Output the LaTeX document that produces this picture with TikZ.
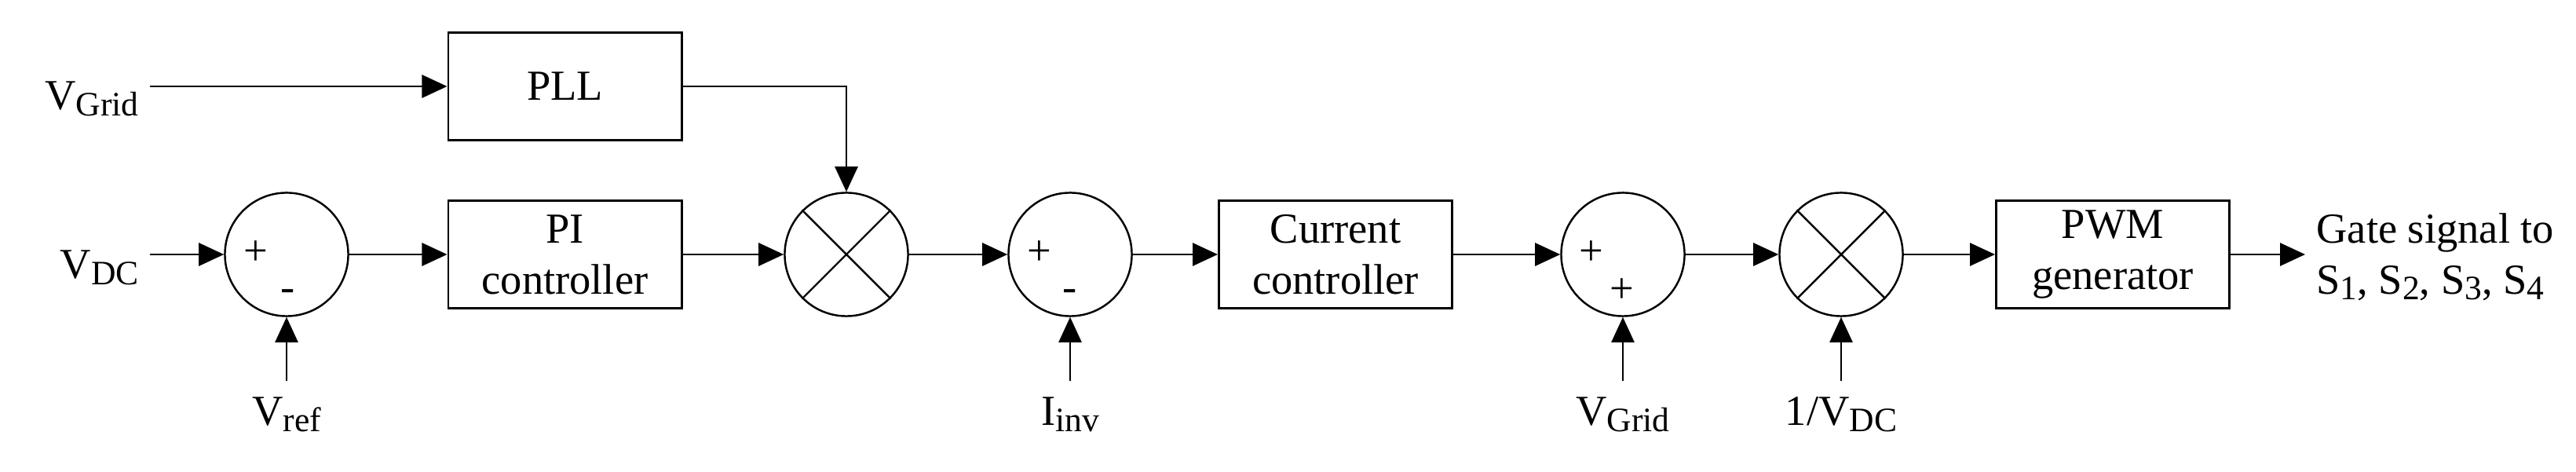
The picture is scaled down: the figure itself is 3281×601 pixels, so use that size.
\documentclass[tikz,border=0pt]{standalone}
\usepackage{fontspec}
\setmainfont{Liberation Serif}
\usetikzlibrary{arrows.meta,calc}
\newcommand{\lowsub}[1]{\raisebox{-2.2pt}{\fontsize{12.4}{12.4}\selectfont #1}}
\begin{document}
\begin{tikzpicture}[x=0.01cm,y=-0.01cm,
  font=\fontsize{15.5}{18.5}\selectfont,
  line width=0.8pt,
  arr/.style={-{Triangle[length=0.32cm,width=0.29cm]}},
  thin arr/.style={arr,line width=0.6pt},
  blk/.style={draw,rectangle,minimum width=2.97cm,minimum height=1.37cm,align=center,inner sep=0pt},
  junc/.style={draw,circle,minimum size=1.57cm,inner sep=0pt,line width=0.7pt},
  sgn/.style={inner sep=0pt},
  lab/.style={inner sep=0.18cm,text height=0.37cm,text depth=0.12cm,anchor=north},
  inlab/.style={anchor=base east,inner sep=0.13cm},
]
\path[use as bounding box] (0,0) rectangle (3281,601);

% blocks
\node[blk] (pll) at (719.5,110) {PLL};
\node[blk] (pi)  at (719.5,324) {PI\\controller};
\node[blk] (cc)  at (1701,324) {Current\\controller};
\node[blk] (pwm) at (2691,324) {PWM\\generator};

% junctions
\node[junc] (s1) at (365,324) {};
\node[junc] (m1) at (1078,324) {};
\node[junc] (s2) at (1363,324) {};
\node[junc] (s3) at (2067,324) {};
\node[junc] (m2) at (2345,324) {};

% multiplier crosses
\draw[line width=0.7pt] (m1.45) -- (m1.225) (m1.135) -- (m1.315);
\draw[line width=0.7pt] (m2.45) -- (m2.225) (m2.135) -- (m2.315);

% signs
\node[sgn] (s1p) at ([shift={(-39,-2)}]s1.center) {+};
\node[sgn] (s1m) at ([shift={(2,52)}]s1.center) {-};
\node[sgn] (s2p) at ([shift={(-39,-2)}]s2.center) {+};
\node[sgn] (s2m) at ([shift={(0,52)}]s2.center) {-};
\node[sgn] (s3p) at ([shift={(-40,-2)}]s3.center) {+};
\node[sgn] (s3q) at ([shift={(-1,46)}]s3.center) {+};

% input labels
\node[inlab] (vg) at (191,140) {V\lowsub{Grid}};
\node[inlab] (vd) at (191,355) {V\lowsub{DC}};

% bottom labels
\node[lab] (vref) at (365,485) {V\lowsub{ref}};
\node[lab] (iinv) at (1363,485) {I\lowsub{inv}};
\node[lab] (vg2)  at (2067,485) {V\lowsub{Grid}};
\node[lab] (vdci) at (2345,485) {1/V\lowsub{DC}};

% output label
\node[anchor=west,align=left,inner sep=0.13cm] (gate) at (2936,327)
  {Gate signal to\\S\lowsub{1}, S\lowsub{2}, S\lowsub{3}, S\lowsub{4}};

% connectors
\draw[arr] (vg.east |- pll.west) -- (pll.west);
\draw[arr] (vd.east |- s1.west) -- (s1.west);
\draw[arr] (s1.east) -- (pi.west);
\draw[arr] (pi.east) -- (m1.west);
\draw[arr] (pll.east) -| (m1.north);
\draw[arr] (m1.east) -- (s2.west);
\draw[arr] (s2.east) -- (cc.west);
\draw[arr] (cc.east) -- (s3.west);
\draw[arr] (s3.east) -- (m2.west);
\draw[arr] (m2.east) -- (pwm.west);
\draw[arr] (pwm.east) -- (pwm.east -| gate.west);

\draw[thin arr] (vref.north) -- (s1.south);
\draw[thin arr] (iinv.north) -- (s2.south);
\draw[thin arr] (vg2.north) -- (s3.south);
\draw[thin arr] (vdci.north) -- (m2.south);
\end{tikzpicture}
\end{document}
